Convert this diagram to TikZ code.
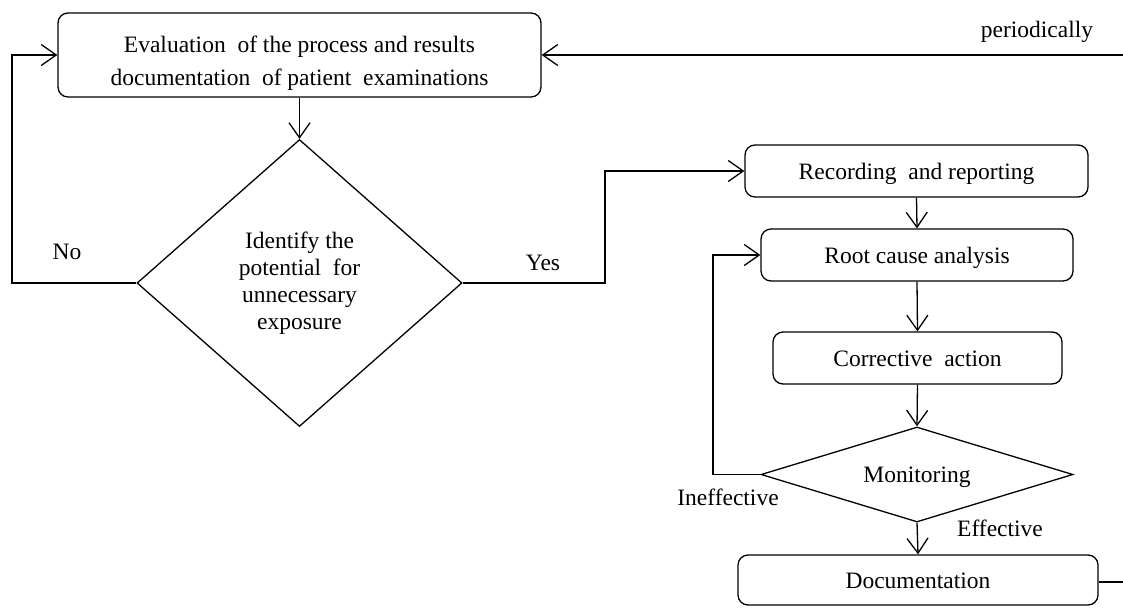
\documentclass[tikz,border=0pt]{standalone}
\usepackage{fontspec}
\setmainfont{Liberation Serif}
\usetikzlibrary{shapes.geometric,arrows.meta}
\begin{document}
\begin{tikzpicture}[x=1pt,y=-1pt,
  every node/.style={font=\fontsize{23.5}{27}\selectfont, text=black},
  box/.style={draw, line width=1.3pt, rounded corners=10pt, inner sep=0pt, align=center},
  one/.style={text height=16pt, text depth=0pt},
  dia/.style={draw, line width=1.3pt, diamond, inner sep=0pt, align=center},
  lbl/.style={inner sep=0pt},
  arr/.style={line width=1.3pt, -{Straight Barb[length=15pt,width=21pt,line width=1.3pt]}},
  ln/.style={line width=1.3pt}]
\useasboundingbox (0,0) rectangle (1123,608);

\node[box, minimum width=483pt, minimum height=84pt,
  font=\fontsize{23.5}{33}\selectfont] (eval) at (299.5,55)
  {\rule{0pt}{32pt}Evaluation\ \ of the process and results\\documentation\ \ of patient\ \ examinations};
\node[dia, aspect=1.13, minimum width=325pt, minimum height=287pt] (ident) at (299.5,283)
  {Identify the\\potential\ \ for\\unnecessary\\exposure};
\node[box, one, minimum width=343pt, minimum height=52pt] (rec) at (916.5,171) {Recording\ \ and reporting};
\node[box, one, minimum width=312pt, minimum height=52pt] (root) at (917,255) {Root cause analysis};
\node[box, one, minimum width=289pt, minimum height=52pt] (corr) at (917.5,358) {Corrective\ \ action};
\node[dia, one, aspect=3.28, minimum width=312pt, minimum height=95pt] (mon) at (917,474.5) {Monitoring};
\node[box, one, minimum width=360pt, minimum height=50pt] (doc) at (918,580) {Documentation};

\coordinate (pin) at (1123,55);
\coordinate (dout) at (1123,582);
\coordinate (noX) at (12,0);
\coordinate (yesX) at (605,0);
\coordinate (inX) at (713,0);

\node[lbl] (no) at (67,252) {No};
\node[lbl] (yes) at (543,263) {Yes};
\node[lbl] (ineff) at (728,497) {Ineffective};
\node[lbl] (eff) at (1000,528) {Effective};
\node[lbl] (per) at (1037,32) {periodically};

\draw[arr] (eval.south) -- (ident.north);
\draw[arr] (ident.west) -- (noX |- ident.west) -- (noX |- eval.west) -- (eval.west);
\draw[arr] (ident.east) -- (yesX |- ident.east) -- (yesX |- rec.west) -- (rec.west);
\draw[arr] (rec.south) -- (root.north);
\draw[arr] (root.south) -- (corr.north);
\draw[arr] (corr.south) -- (mon.north);
\draw[arr] (mon.west) -- (inX |- mon.west) -- (inX |- root.west) -- (root.west);
\draw[arr] (mon.south) -- (doc.north);
\draw[ln] (doc.east |- dout) -- (dout);
\draw[arr] (pin) -- (eval.east);
\end{tikzpicture}
\end{document}
